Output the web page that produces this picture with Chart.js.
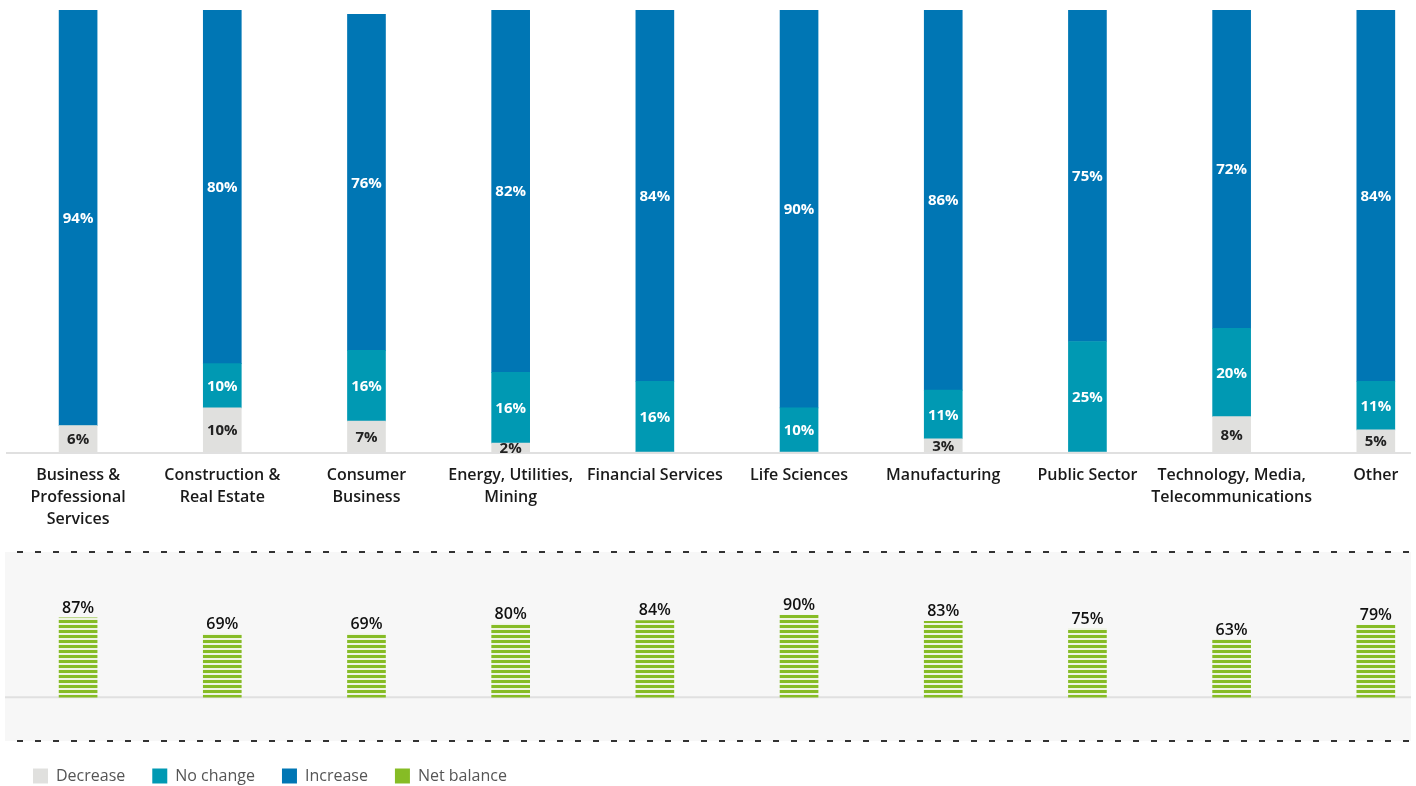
<!DOCTYPE html>
<html><head><meta charset="utf-8">
<script src="https://cdn.jsdelivr.net/npm/chart.js@4.4.1/dist/chart.umd.min.js"></script>
<style>
html,body{margin:0;padding:0;background:#fff;overflow:hidden;width:1416px;height:786px}
#top{position:absolute;left:0;top:0;width:1416px;height:540px}
#bot{position:absolute;left:0;top:540px;width:1416px;height:254px}
canvas{display:block}
</style></head><body>
<div id="top"><canvas id="c1" width="1416" height="540"></canvas></div>
<div id="bot"><canvas id="c2" width="1416" height="254"></canvas></div>
<script>
const categories = [["Business &","Professional","Services"],["Construction &","Real Estate"],["Consumer","Business"],["Energy, Utilities,","Mining"],"Financial Services","Life Sciences","Manufacturing","Public Sector",["Technology, Media,","Telecommunications"],"Other"];
const decrease   = [6,10,7,2,0,0,3,0,8,5];
const noChange   = [0,10,16,16,16,10,11,25,20,11];
const increase   = [94,80,76,82,84,90,86,75,72,84];
const netBalance = [87,69,69,80,84,90,83,75,63,79];
const seriesNames = ["Decrease","No change","Increase","Net balance"];

const COLORS = {dec:'#E0E0DE', noc:'#0099B3', inc:'#0076B4', net:'#86BC25'};
const FONT = '"Open Sans", "Noto Sans", sans-serif';

function pts(arr){ return arr.map((v,i)=>({x:i,y:v})); }

function stripePattern(){
  const c=document.createElement('canvas'); c.width=8; c.height=5;
  const g=c.getContext('2d');
  g.fillStyle='#EEF4E2'; g.fillRect(0,0,8,5);
  g.fillStyle=COLORS.net; g.fillRect(0,0,8,3);
  return g.createPattern(c,'repeat');
}

const xScaleBase = {
  type:'linear', min:-0.5, max:9.244, offset:false, bounds:'ticks',
  afterDataLimits(s){ s.min=-0.5; s.max=9.244; },
  afterBuildTicks(s){ s.ticks = categories.map((c,i)=>({value:i})); },
};

function build(){
  const segLabels = {
    id:'segLabels',
    beforeDatasetsDraw(chart){
      const {ctx, chartArea:a} = chart;
      ctx.save(); ctx.strokeStyle='#E0E0E0'; ctx.lineWidth=2;
      ctx.beginPath(); ctx.moveTo(a.left, a.bottom+1); ctx.lineTo(a.right, a.bottom+1); ctx.stroke();
      ctx.restore();
    },
    afterDatasetsDraw(chart){
      const ctx=chart.ctx;
      chart.data.datasets.forEach((ds,di)=>{
        const meta=chart.getDatasetMeta(di);
        meta.data.forEach((bar,i)=>{
          const v=ds.data[i].y; if(!v) return;
          const p=bar.getProps(['x','y','base'],true);
          ctx.save();
          ctx.font='700 15px '+FONT;
          ctx.fillStyle = di===0 ? '#222222' : '#FFFFFF';
          ctx.textAlign='center'; ctx.textBaseline='middle';
          ctx.fillText(v+'%', p.x, (p.y+p.base)/2+1);
          ctx.restore();
        });
      });
    }
  };

  new Chart(document.getElementById('c1'), {
    type:'bar',
    data:{datasets:[
      {label:seriesNames[0], data:pts(decrease), backgroundColor:COLORS.dec},
      {label:seriesNames[1], data:pts(noChange), backgroundColor:COLORS.noc},
      {label:seriesNames[2], data:pts(increase), backgroundColor:COLORS.inc},
    ]},
    options:{
      responsive:false, animation:false, devicePixelRatio:1,
      layout:{padding:{left:6,right:5,top:10,bottom:0}},
      datasets:{bar:{barThickness:38, borderWidth:0}},
      plugins:{legend:{display:false}, tooltip:{enabled:false}},
      scales:{
        x:Object.assign({}, xScaleBase, {
          stacked:true,
          grid:{display:false, drawTicks:false, offset:false},
          border:{display:false},
          afterFit(s){ s.height = 88; },
          ticks:{
            padding:12, maxRotation:0, autoSkip:false, color:'#1A1A1A',
            font:{family:FONT, size:16, weight:'600', lineHeight:1.375},
            callback:(v)=>categories[v]
          }
        }),
        y:{stacked:true, display:false, min:0, max:100}
      }
    },
    plugins:[segLabels]
  });

  const netPlugin = {
    id:'netPlugin',
    beforeDraw(chart){
      const {ctx, chartArea:a} = chart;
      const y0 = chart.scales.y.getPixelForValue(0);
      ctx.save();
      ctx.fillStyle='#F7F7F7';
      ctx.fillRect(a.left-1, a.top, a.right-a.left+1, a.bottom-a.top);
      ctx.strokeStyle='#E0E0E0'; ctx.lineWidth=2;
      ctx.beginPath(); ctx.moveTo(a.left-1, y0); ctx.lineTo(a.right, y0); ctx.stroke();
      ctx.strokeStyle='#333333'; ctx.lineWidth=2; ctx.setLineDash([6,12]); ctx.lineDashOffset=-12;
      ctx.beginPath(); ctx.moveTo(a.left-1, a.top); ctx.lineTo(a.right, a.top); ctx.stroke();
      ctx.beginPath(); ctx.moveTo(a.left-1, a.bottom); ctx.lineTo(a.right, a.bottom); ctx.stroke();
      ctx.restore();
    },
    afterDatasetsDraw(chart){
      const ctx=chart.ctx;
      const meta=chart.getDatasetMeta(0);
      meta.data.forEach((bar,i)=>{
        const v=chart.data.datasets[0].data[i].y;
        const p=bar.getProps(['x','y'],true);
        ctx.save();
        ctx.font='600 16px '+FONT; ctx.fillStyle='#111111';
        ctx.textAlign='center'; ctx.textBaseline='alphabetic';
        ctx.fillText(v+'%', p.x, p.y-5);
        ctx.restore();
      });
    }
  };

  const legendColors = [COLORS.dec, COLORS.noc, COLORS.inc, COLORS.net];
  new Chart(document.getElementById('c2'), {
    type:'bar',
    data:{datasets:[
      {label:seriesNames[3], data:pts(netBalance), backgroundColor:stripePattern()}
    ]},
    options:{
      responsive:false, animation:false, devicePixelRatio:1,
      layout:{padding:{left:6,right:5,top:12,bottom:0}},
      datasets:{bar:{barThickness:38, borderWidth:0}},
      plugins:{
        tooltip:{enabled:false},
        legend:{
          display:true, position:'bottom', align:'start', onClick:null,
          labels:{
            boxWidth:15, boxHeight:15, padding:27, color:'#555555',
            font:{family:FONT, size:16, weight:'400'},
            generateLabels:()=>seriesNames.map((n,i)=>({text:n, fillStyle:legendColors[i], strokeStyle:legendColors[i], lineWidth:0, hidden:false, datasetIndex:0, fontColor:'#555555'}))
          }
        }
      },
      scales:{
        x:Object.assign({}, xScaleBase, {display:false}),
        y:{display:false, min:-48, max:159}
      }
    },
    plugins:[netPlugin]
  });
}

const fontsReady = document.fonts && document.fonts.load
  ? Promise.all([document.fonts.load('400 16px "Open Sans"'), document.fonts.load('600 16px "Open Sans"'), document.fonts.load('700 15px "Open Sans"')]).catch(()=>{})
  : Promise.resolve();
fontsReady.then(build);
</script>
</body></html>
